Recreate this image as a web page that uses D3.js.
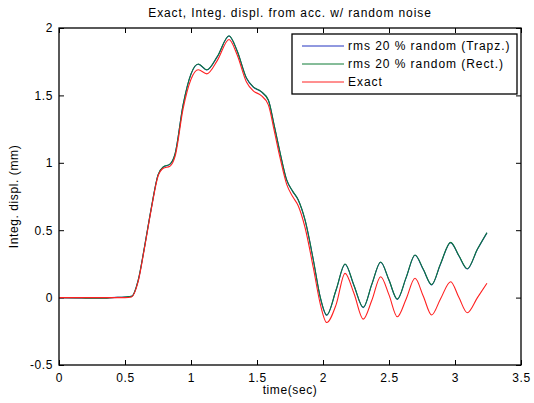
<!DOCTYPE html>
<html>
<head>
<meta charset="utf-8">
<script src="https://cdn.jsdelivr.net/npm/d3@7"></script>
<style>
  body { margin: 0; background: #fff; }
  svg { display: block; font-family: "Liberation Sans", Arial, sans-serif; }
</style>
</head>
<body>
<div id="chart"></div>
<script>
// values
var time = [0, 0.15, 0.2, 0.35, 0.4, 0.5, 0.55, 0.6, 0.65, 0.7, 0.75, 0.79, 0.84, 0.88, 0.94, 1.0,
  1.055, 1.12, 1.2, 1.288, 1.35, 1.42, 1.47, 1.53, 1.586, 1.63, 1.674, 1.725, 1.77, 1.813, 1.864,
  1.927, 1.98, 2.028, 2.1, 2.167, 2.235, 2.305, 2.37, 2.437, 2.5, 2.563, 2.63, 2.697, 2.76, 2.823,
  2.89, 2.967, 3.03, 3.093, 3.17, 3.242];

var exact = [0, 0, 0, 0, 0, 0, 0.005, 0.12, 0.38, 0.66, 0.90, 0.96, 0.975, 1.05, 1.40, 1.62,
  1.69, 1.66, 1.76, 1.915, 1.80, 1.60, 1.535, 1.50, 1.43, 1.24, 1.04, 0.84, 0.75, 0.68, 0.52,
  0.22, -0.05, -0.185, -0.05, 0.18, 0.03, -0.16, -0.02, 0.155, 0.02, -0.142, -0.01, 0.143, 0.01, -0.129,
  -0.01, 0.118, 0.0, -0.112, 0.0, 0.106];

var rect = [0, -0.002, -0.004, -0.004, 0, 0.005, 0.01, 0.13, 0.39, 0.67, 0.91, 0.97, 0.99, 1.07, 1.43, 1.66,
  1.733, 1.69, 1.79, 1.943, 1.83, 1.63, 1.565, 1.53, 1.466, 1.28, 1.08, 0.873, 0.79, 0.724, 0.576,
  0.279, 0.0, -0.129, 0.06, 0.249, 0.09, -0.072, 0.10, 0.264, 0.13, -0.011, 0.15, 0.316, 0.21, 0.096,
  0.25, 0.410, 0.31, 0.214, 0.36, 0.482];

var trapz = [0, -0.002, -0.003, -0.003, 0, 0.004, 0.009, 0.128, 0.388, 0.668, 0.908, 0.968, 0.988, 1.068, 1.428, 1.658,
  1.731, 1.688, 1.788, 1.941, 1.828, 1.628, 1.563, 1.528, 1.464, 1.278, 1.078, 0.871, 0.788, 0.722, 0.574,
  0.277, -0.002, -0.131, 0.058, 0.247, 0.088, -0.074, 0.098, 0.262, 0.128, -0.013, 0.148, 0.314, 0.208, 0.094,
  0.248, 0.408, 0.308, 0.212, 0.358, 0.480];

var seriesNames = ["rms 20 % random (Trapz.)", "rms 20 % random (Rect.)", "Exact"];
var seriesColors = ["#2233c0", "#0d7a35", "#ff2020"];

var xTicks = [0, 0.5, 1, 1.5, 2, 2.5, 3, 3.5];
var xTickLabels = ["0", "0.5", "1", "1.5", "2", "2.5", "3", "3.5"];
var yTicks = [-0.5, 0, 0.5, 1, 1.5, 2];
var yTickLabels = ["-0.5", "0", "0.5", "1", "1.5", "2"];

var W = 534, H = 403;
var box = { left: 59, right: 521, top: 28, bottom: 365 };

var svg = d3.select("#chart").append("svg")
  .attr("width", W).attr("height", H);

var x = d3.scaleLinear().domain([0, 3.5]).range([box.left, box.right]);
var y = d3.scaleLinear().domain([-0.5, 2]).range([box.bottom, box.top]);

function styleAxis(g) {
  g.select(".domain").remove();
  g.selectAll(".tick line").attr("stroke", "#000");
  g.selectAll(".tick text").attr("fill", "#000")
    .style("font-size", "12px").style("letter-spacing", "0.6px");
}

// ticks pointing inward on all four sides
svg.append("g").attr("transform", "translate(0," + box.bottom + ")")
  .call(d3.axisBottom(x).tickValues(xTicks).tickSizeInner(-5).tickSizeOuter(0).tickPadding(8)
    .tickFormat(function(d, i) { return xTickLabels[i]; }))
  .call(styleAxis);
svg.append("g").attr("transform", "translate(0," + box.top + ")")
  .call(d3.axisTop(x).tickValues(xTicks).tickSizeInner(-5).tickSizeOuter(0).tickFormat(""))
  .call(styleAxis);
svg.append("g").attr("transform", "translate(" + box.left + ",0)")
  .call(d3.axisLeft(y).tickValues(yTicks).tickSizeInner(-5).tickSizeOuter(0).tickPadding(6)
    .tickFormat(function(d, i) { return yTickLabels[i]; }))
  .call(styleAxis);
svg.append("g").attr("transform", "translate(" + box.right + ",0)")
  .call(d3.axisRight(y).tickValues(yTicks).tickSizeInner(-5).tickSizeOuter(0).tickFormat(""))
  .call(styleAxis);

// lines
var line = d3.line()
  .x(function(d, i) { return x(time[i]); })
  .y(function(d) { return y(d); })
  .curve(d3.curveMonotoneX);

[trapz, rect, exact].forEach(function(s, k) {
  svg.append("path")
    .datum(s)
    .attr("d", line)
    .attr("fill", "none")
    .attr("stroke", seriesColors[k])
    .attr("stroke-width", 1.1);
});

// axes frame
svg.append("rect")
  .attr("x", box.left).attr("y", box.top)
  .attr("width", box.right - box.left).attr("height", box.bottom - box.top)
  .attr("fill", "none").attr("stroke", "#000").attr("stroke-width", 1.3);

// labels
svg.append("text")
  .attr("x", (box.left + box.right) / 2).attr("y", 17)
  .attr("text-anchor", "middle").style("font-size", "12px").style("letter-spacing", "0.9px")
  .text("Exact, Integ. displ. from acc. w/ random noise");

svg.append("text")
  .attr("x", (box.left + box.right) / 2).attr("y", 394)
  .attr("text-anchor", "middle").style("font-size", "12px").style("letter-spacing", "0.6px")
  .text("time(sec)");

svg.append("text")
  .attr("transform", "translate(18," + ((box.top + box.bottom) / 2) + ") rotate(-90)")
  .attr("text-anchor", "middle").style("font-size", "12px").style("letter-spacing", "0.6px")
  .text("Integ. displ. (mm)");

// legend
var legend = svg.append("g");
legend.append("rect")
  .attr("x", 292).attr("y", 34).attr("width", 225).attr("height", 60)
  .attr("fill", "#fff").attr("stroke", "#000").attr("stroke-width", 1.3);

seriesNames.forEach(function(name, k) {
  var ly = 46 + k * 18;
  legend.append("line")
    .attr("x1", 302).attr("x2", 344).attr("y1", ly).attr("y2", ly)
    .attr("stroke", seriesColors[k]).attr("stroke-width", 1);
  legend.append("text")
    .attr("x", 348).attr("y", ly + 4).style("font-size", "12px").style("letter-spacing", "0.95px")
    .text(name);
});
</script>
</body>
</html>
